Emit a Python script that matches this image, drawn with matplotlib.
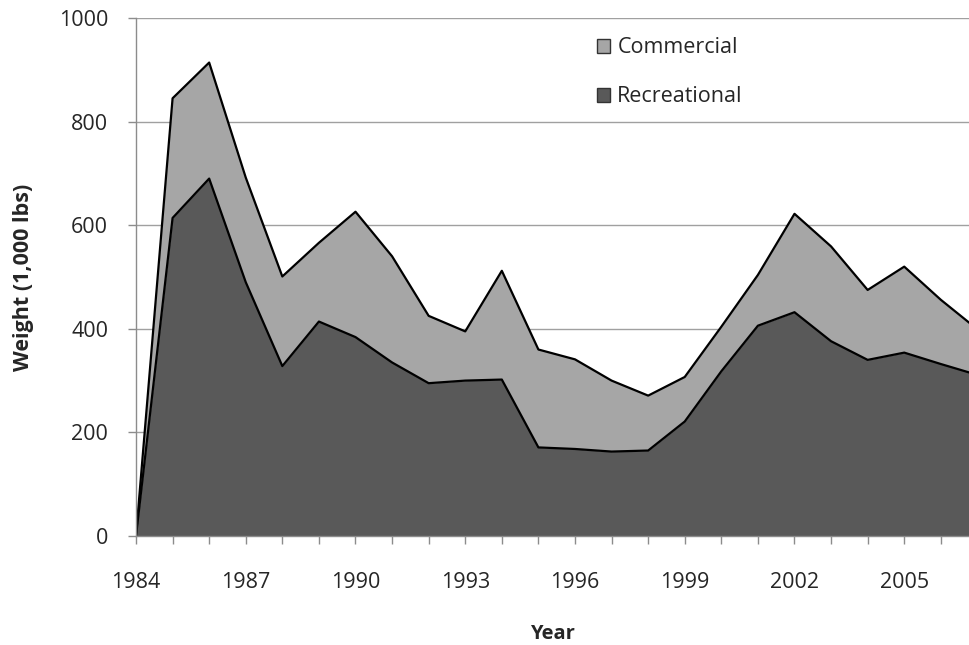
import matplotlib
matplotlib.use("Agg")
import matplotlib.pyplot as plt
from matplotlib.patches import Patch
from matplotlib.ticker import MultipleLocator

years = list(range(1984, 2008))
recreational = [0, 614, 690, 490, 328, 414, 384, 335, 295, 300, 302, 171, 168, 163, 165,
                221, 318, 406, 432, 376, 340, 354, 332, 311]
total = [0, 845, 914, 692, 501, 566, 626, 540, 425, 395, 512, 360, 341, 300, 271,
         307, 404, 504, 622, 559, 475, 520, 456, 399]
series_labels = ["Commercial", "Recreational"]
yticks = [0, 200, 400, 600, 800, 1000]
xtick_years = list(range(1984, 2007, 3))

plt.rcParams['font.family'] = ['Open Sans', 'DejaVu Sans']

fig = plt.figure(figsize=(9.69, 6.45), dpi=100)
ax = fig.add_axes([136/969, 1 - 536/645, 1 - 136/969, (536 - 18)/645])

c_com = '#a6a6a6'
c_rec = '#595959'
ax.fill_between(years, recreational, total, color=c_com, linewidth=0, zorder=2)
ax.fill_between(years, 0, recreational, color=c_rec, linewidth=0, zorder=2)
ax.plot(years, total, color='black', lw=1.6, zorder=3)
ax.plot(years, recreational, color='black', lw=1.6, zorder=3)

ax.set_xlim(1984, 2006.77)
ax.set_ylim(0, 1000)
ax.set_yticks(yticks)
ax.set_xticks(xtick_years)
ax.xaxis.set_minor_locator(MultipleLocator(1))
ax.yaxis.grid(True, color='#a0a0a0', lw=1.0, zorder=1)
ax.set_axisbelow(True)

for s in ['top', 'right']:
    ax.spines[s].set_visible(False)
for s in ['left', 'bottom']:
    ax.spines[s].set_color('#8c8c8c')
    ax.spines[s].set_linewidth(1.0)
    ax.spines[s].set_zorder(4)

ax.tick_params(axis='both', which='both', direction='out', color='#8c8c8c', length=6, width=1.0)
ax.tick_params(axis='x', which='major', labelsize=15.5, pad=20, labelcolor='#262626')
ax.tick_params(axis='y', which='major', labelsize=15.5, pad=14, labelcolor='#262626')

ax.set_xlabel('Year', fontsize=14.5, fontweight='bold', labelpad=22, color='#262626')
ax.set_ylabel('Weight (1,000 lbs)', fontsize=15.5, fontweight='bold', labelpad=18, color='#262626')

handles = [Patch(facecolor=c_com, edgecolor='#333333', lw=1.0),
           Patch(facecolor=c_rec, edgecolor='#333333', lw=1.0)]
leg = ax.legend(handles, series_labels, loc='upper left', bbox_to_anchor=(0.53, 1.0),
                frameon=False, fontsize=15.5, handlelength=0.6, handleheight=0.6,
                handletextpad=0.35, labelspacing=1.3)
for t in leg.get_texts():
    t.set_color('#262626')

fig.savefig('out.png', dpi=100)
